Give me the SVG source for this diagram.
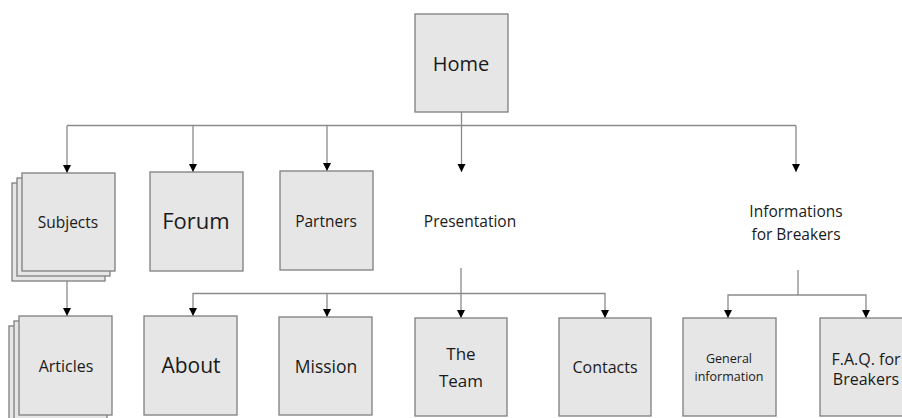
<svg xmlns="http://www.w3.org/2000/svg" width="902" height="418" viewBox="0 0 902 418">
<style>
.box{fill:#e6e6e6;stroke:#7f7f7f;stroke-width:1.3}
.ln{fill:none;stroke:#8a8a8a;stroke-width:1.3}
text{font-family:"Open Sans","Noto Sans",sans-serif;fill:#1a1a1a;text-anchor:middle}
</style>
<defs>
<marker id="ah" markerUnits="userSpaceOnUse" markerWidth="9" markerHeight="10" refX="8" refY="5" orient="auto-start-reverse" viewBox="0 0 9 10">
<path d="M0,1 L8,5 L0,9 Z" fill="#000"/>
</marker>
</defs>
<rect width="902" height="418" fill="#fff"/>
<g id="connectors">
<line class="ln" x1="67" y1="125.5" x2="796" y2="125.5"/>
<line class="ln" x1="67" y1="125.5" x2="67" y2="173" marker-end="url(#ah)"/>
<line class="ln" x1="193" y1="125.5" x2="193" y2="172" marker-end="url(#ah)"/>
<line class="ln" x1="327" y1="125.5" x2="327" y2="171" marker-end="url(#ah)"/>
<line class="ln" x1="461.5" y1="112" x2="461.5" y2="172" marker-end="url(#ah)"/>
<line class="ln" x1="796" y1="125.5" x2="796" y2="172" marker-end="url(#ah)"/>
<line class="ln" x1="67" y1="281" x2="67" y2="316" marker-end="url(#ah)"/>
<line class="ln" x1="461" y1="268" x2="461" y2="318" marker-end="url(#ah)"/>
<polyline class="ln" points="193,316 193,293.5 605,293.5 605,318" marker-start="url(#ah)" marker-end="url(#ah)"/>
<line class="ln" x1="327" y1="293.5" x2="327" y2="317" marker-end="url(#ah)"/>
<line class="ln" x1="798" y1="270" x2="798" y2="295"/>
<polyline class="ln" points="728,318 728,295 866,295 866,318" marker-start="url(#ah)" marker-end="url(#ah)"/>
</g>
<g id="home"><rect class="box" x="415" y="14" width="93" height="98"/><text x="461" y="71" font-size="20">Home</text></g>
<g id="subjects">
<rect class="box" x="12" y="183" width="93" height="98"/>
<rect class="box" x="17" y="178" width="93" height="98"/>
<rect class="box" x="22" y="173" width="93" height="98"/>
<text x="68" y="228" font-size="15.5">Subjects</text>
</g>
<g id="forum"><rect class="box" x="150" y="172" width="93" height="99"/><text x="196" y="229" font-size="22">Forum</text></g>
<g id="partners"><rect class="box" x="280" y="171" width="93" height="99"/><text x="326" y="227" font-size="15.5">Partners</text></g>
<g id="presentation"><text x="470" y="227" font-size="15.5">Presentation</text></g>
<g id="informations"><text x="796" y="217" font-size="15.5">Informations</text><text x="796" y="240" font-size="15.5">for Breakers</text></g>
<g id="articles">
<rect class="box" x="9" y="326" width="93" height="100"/>
<rect class="box" x="14" y="321" width="93" height="100"/>
<rect class="box" x="19" y="316" width="93" height="99"/>
<text x="66" y="372" font-size="16">Articles</text>
</g>
<g id="about"><rect class="box" x="144" y="316" width="93" height="99"/><text x="191" y="373" font-size="21">About</text></g>
<g id="mission"><rect class="box" x="279" y="317" width="93" height="98"/><text x="326" y="373" font-size="17.5">Mission</text></g>
<g id="team"><rect class="box" x="415" y="318" width="92" height="98"/><text x="461" y="360" font-size="17">The</text><text x="461" y="387" font-size="17">Team</text></g>
<g id="contacts"><rect class="box" x="559" y="318" width="92" height="98"/><text x="605" y="373" font-size="16">Contacts</text></g>
<g id="general"><rect class="box" x="683" y="318" width="93" height="98"/><text x="729" y="363" font-size="12.5">General</text><text x="729" y="381" font-size="12.5">information</text></g>
<g id="faq"><rect class="box" x="820" y="318" width="93" height="98"/><text x="866" y="365" font-size="16">F.A.Q. for</text><text x="866" y="385" font-size="16">Breakers</text></g>
</svg>
